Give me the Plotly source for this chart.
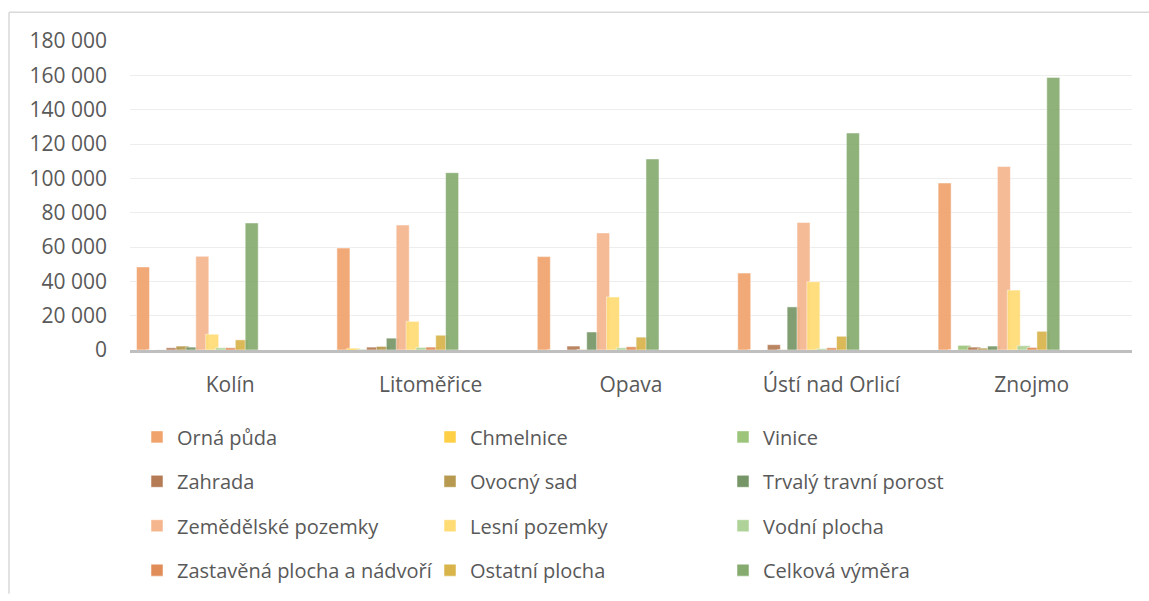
import plotly.graph_objects as go

categories = ["Kolín", "Litoměřice", "Opava", "Ústí nad Orlicí", "Znojmo"]

orna_puda = [48400, 59400, 54400, 44800, 97300]
chmelnice = [0, 1000, 0, 0, 0]
vinice = [100, 400, 0, 0, 2700]
zahrada = [1300, 1700, 2300, 3100, 1700]
ovocny_sad = [2300, 2100, 300, 200, 1100]
trvaly_travni_porost = [1700, 6900, 10500, 25100, 2300]
zemedelske_pozemky = [54600, 72800, 68200, 74300, 106900]
lesni_pozemky = [9200, 16700, 30900, 39800, 34900]
vodni_plocha = [1300, 1500, 1300, 800, 2500]
zastavena_plocha = [1300, 1700, 1900, 1300, 1500]
ostatni_plocha = [5900, 8600, 7500, 8000, 10900]
celkova_vymera = [74000, 103300, 111300, 126400, 158800]

series_names = ["Orná půda", "Chmelnice", "Vinice", "Zahrada", "Ovocný sad",
                "Trvalý travní porost", "Zemědělské pozemky", "Lesní pozemky",
                "Vodní plocha", "Zastavěná plocha a nádvoří", "Ostatní plocha",
                "Celková výměra"]
series_values = [orna_puda, chmelnice, vinice, zahrada, ovocny_sad,
                 trvaly_travni_porost, zemedelske_pozemky, lesni_pozemky,
                 vodni_plocha, zastavena_plocha, ostatni_plocha, celkova_vymera]
series_colors = ["#F0A36C", "#FFD045", "#9CC57B", "#B57B54", "#B79A50", "#769667",
                 "#F5B68E", "#FFDC76", "#AED297", "#E08D59", "#D8B44A", "#86AB6F"]

tick_vals = list(range(0, 180001, 20000))

FONT = "Open Sans"
TXT = "#595959"
FS = 21
LFS = 20

W, H = 1149, 601
L, R, T, B = 130, 17, 41, 247
pw = W - L - R
ph = H - T - B

fig = go.Figure()
bar_w = 0.065
step = 0.0493
start = -0.4675
legend_ids = ["legend", "legend2", "legend3", "legend4"]
for i, (name, vals, col) in enumerate(zip(series_names, series_values, series_colors)):
    fig.add_trace(go.Bar(
        x=categories, y=vals, name=name,
        marker=dict(color=col, opacity=0.92,
                    line=dict(color="rgba(255,255,255,0.5)", width=1)),
        width=bar_w, offset=start + i * step,
        legend=legend_ids[i // 3],
    ))

row_y = [442, 487, 532, 577]
legends = {}
for k, lid in enumerate(legend_ids):
    legends[lid] = dict(
        orientation="h", x=(137 - L) / pw, xanchor="left",
        y=(H - B - row_y[k]) / ph, yanchor="middle",
        entrywidth=248, entrywidthmode="pixels",
        font=dict(family=FONT, size=LFS, color=TXT),
        bgcolor="rgba(0,0,0,0)", borderwidth=0,
        traceorder="normal",
    )

fig.update_layout(
    width=W, height=H,
    margin=dict(l=L, r=R, t=T, b=B),
    barmode="overlay",
    paper_bgcolor="white", plot_bgcolor="white",
    font=dict(family=FONT, size=FS, color=TXT),
    separators=", ",
    showlegend=True,
    xaxis=dict(
        type="category", range=[-0.5, 4.5],
        showline=True, linecolor="#BFBFBF", linewidth=2.7,
        showgrid=False, ticks="", ticklabelstandoff=14,
        tickfont=dict(family=FONT, size=FS, color=TXT),
    ),
    yaxis=dict(
        range=[0, 180000], tickvals=tick_vals, tickformat=",d",
        showgrid=True, gridcolor="#EDEDED", gridwidth=1.3,
        zeroline=False, showline=False, ticks="",
        ticklabelstandoff=22,
        tickfont=dict(family=FONT, size=FS, color=TXT),
    ),
    shapes=[
        dict(type="line", xref="paper", yref="paper",
             x0=(9 - L) / pw, x1=(9 - L) / pw,
             y0=(H - B - 12) / ph, y1=(H - B - H) / ph,
             line=dict(color="#D9D9D9", width=1.5)),
        dict(type="line", xref="paper", yref="paper",
             x0=(9 - L) / pw, x1=(W - L) / pw,
             y0=(H - B - 12) / ph, y1=(H - B - 12) / ph,
             line=dict(color="#D9D9D9", width=1.5)),
    ],
    **legends,
)

post = (
    "var d=document.documentElement,b=document.body;"
    "d.style.margin='0';d.style.padding='0';d.style.overflow='hidden';"
    "d.style.height='601px';"
    "b.style.margin='0';b.style.padding='0';b.style.overflow='hidden';"
    "b.style.height='601px';"
)
fig.write_html("out.html", config={"displayModeBar": False}, post_script=post)
